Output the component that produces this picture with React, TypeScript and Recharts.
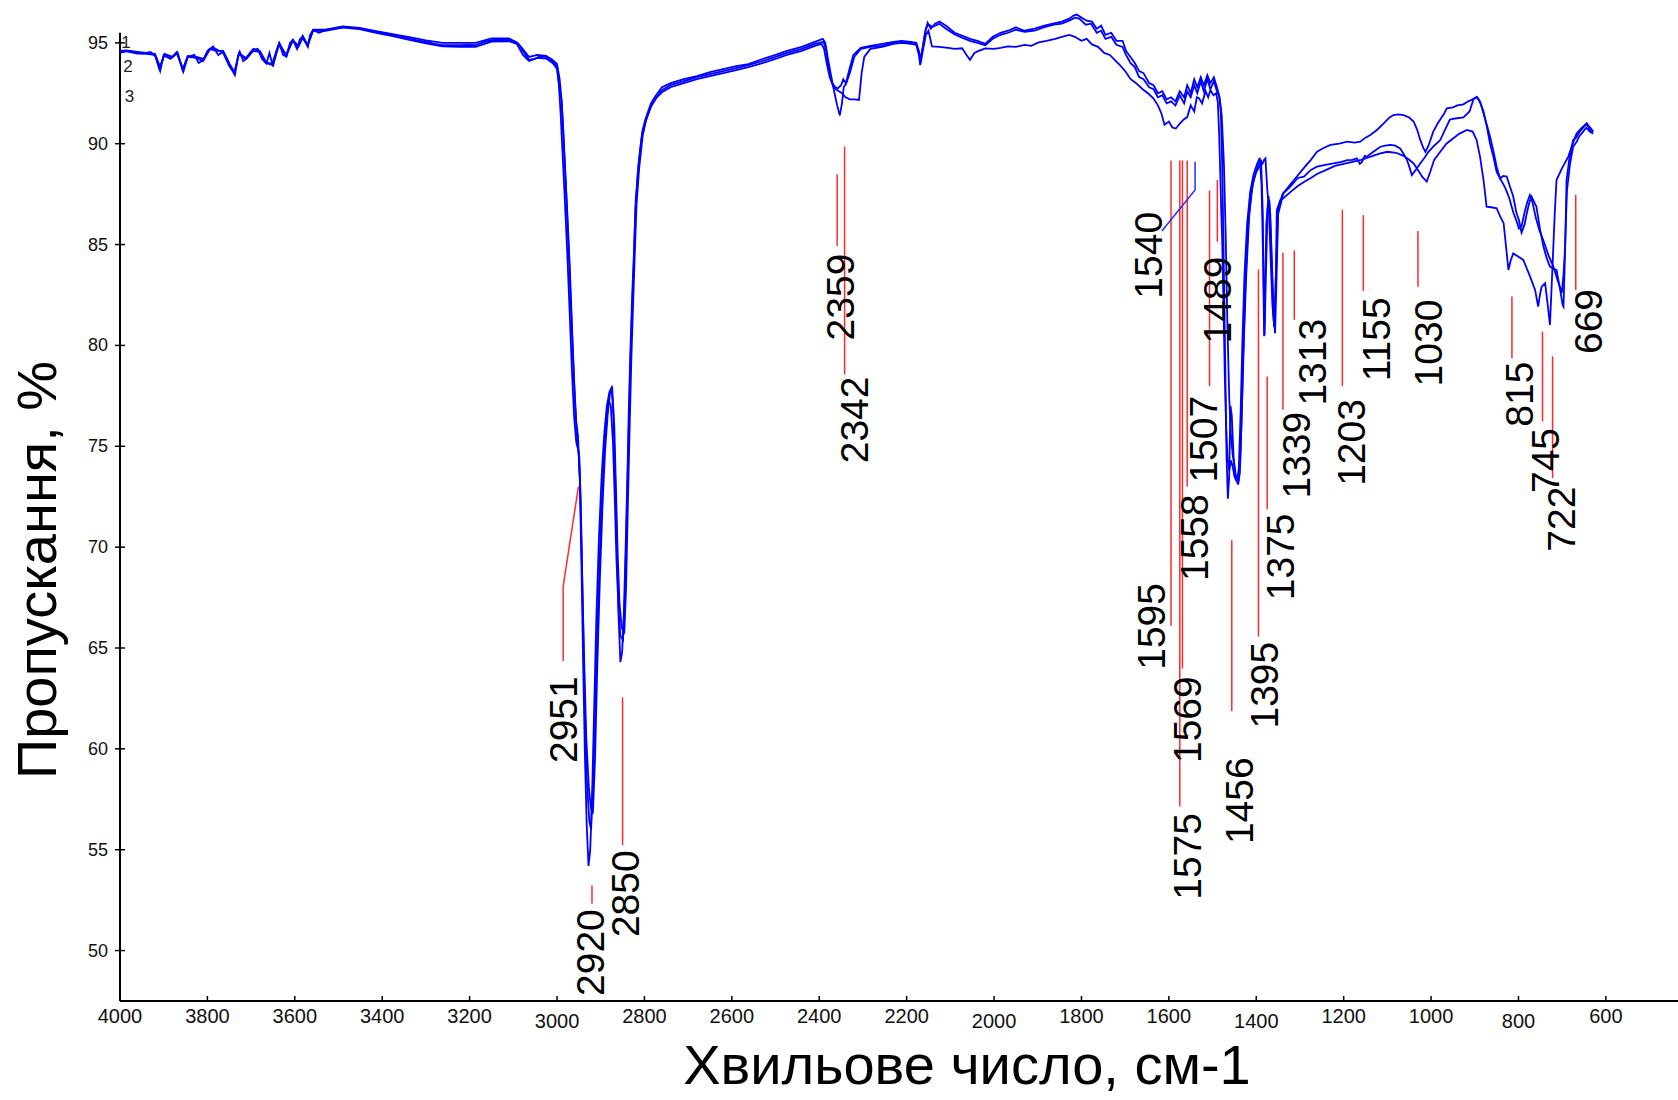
import React from 'react'
import { LineChart, Line, XAxis, YAxis, ReferenceLine, ReferenceDot } from 'recharts'

// IR spectra: [wavenumber cm-1, transmittance %]
const spectrum1: [number, number][] = [
  [4000, 94.56], [3985, 94.6], [3960, 94.5], [3946, 94.48], [3930, 94.55], [3918, 94.3], [3908, 93.6], [3900, 94.4],
  [3885, 94.2], [3870, 94.5], [3860, 93.9], [3855, 93.57], [3845, 94.3], [3830, 94.4], [3820, 94.0], [3809, 94.15],
  [3800, 94.6], [3787, 94.81], [3775, 94.4], [3764, 94.56], [3755, 94.2], [3748, 93.82], [3737, 93.4], [3730, 94.3],
  [3726, 94.56], [3718, 94.1], [3710, 94.23], [3695, 94.65], [3685, 94.7], [3675, 94.2], [3665, 93.98], [3658, 94.5],
  [3650, 93.82], [3642, 94.6], [3635, 94.97], [3627, 94.4], [3619, 94.31], [3611, 95.0], [3604, 95.14], [3595, 94.7],
  [3588, 95.2], [3581, 95.3], [3570, 94.81], [3565, 95.4], [3558, 95.64], [3545, 95.5], [3528, 95.64], [3510, 95.72],
  [3490, 95.8], [3470, 95.75], [3452, 95.72], [3430, 95.62], [3414, 95.55], [3395, 95.47], [3376, 95.39], [3355, 95.3],
  [3338, 95.22], [3320, 95.12], [3300, 95.05], [3280, 94.95], [3262, 94.89], [3240, 94.88], [3224, 94.89], [3200, 94.9],
  [3186, 94.89], [3165, 95.05], [3148, 95.14], [3125, 95.15], [3110, 95.14], [3095, 95.05], [3087, 94.89], [3075, 94.5],
  [3064, 94.15], [3052, 94.2], [3041, 94.31], [3025, 94.3], [3010, 94.07], [3000, 93.8], [2995, 92.83], [2990, 92.2],
  [2986, 90.8], [2982, 89.0], [2977, 86.8], [2971, 84.0], [2965, 80.5], [2960, 77.8], [2956, 76.2], [2952, 75.5],
  [2948, 73.5], [2944, 69.0], [2940, 64.0], [2936, 59.5], [2932, 56.2], [2928, 54.2], [2924, 55.0], [2920, 57.5],
  [2915, 62.0], [2910, 66.5], [2904, 70.5], [2898, 73.5], [2892, 75.6], [2886, 77.0], [2880, 77.7], [2875, 77.9],
  [2871, 76.5], [2867, 73.5], [2863, 70.0], [2859, 66.5], [2855, 64.3], [2851, 64.8], [2847, 66.8], [2843, 70.0],
  [2839, 73.5], [2836, 76.6], [2832, 79.8], [2828, 82.5], [2824, 84.6], [2820, 87.2], [2813, 89.1], [2805, 90.6],
  [2798, 91.2], [2785, 92.0], [2775, 92.35], [2760, 92.8], [2740, 93.0], [2710, 93.2], [2680, 93.35], [2650, 93.55],
  [2620, 93.7], [2590, 93.85], [2562, 93.95], [2530, 94.2], [2500, 94.4], [2474, 94.6], [2440, 94.8], [2410, 95.05],
  [2392, 95.2], [2386, 95.0], [2380, 94.2], [2374, 93.5], [2366, 92.6], [2359, 91.9], [2353, 91.4], [2348, 92.0],
  [2344, 92.8], [2338, 93.0], [2330, 93.5], [2320, 94.3], [2305, 94.7], [2283, 94.8], [2256, 94.85], [2230, 95.0],
  [2212, 95.02], [2190, 94.98], [2178, 94.95], [2172, 94.4], [2169, 93.9], [2165, 94.5], [2158, 95.5], [2152, 96.0],
  [2145, 95.7], [2135, 95.95], [2125, 96.06], [2110, 95.85], [2090, 95.5], [2072, 95.35], [2055, 95.2], [2038, 95.1],
  [2020, 94.95], [2003, 95.3], [1985, 95.5], [1968, 95.6], [1950, 95.77], [1930, 95.6], [1907, 95.7], [1885, 95.85],
  [1863, 95.96], [1845, 96.05], [1828, 96.2], [1818, 96.35], [1811, 96.4], [1800, 96.25], [1788, 96.1], [1776, 96.05],
  [1765, 95.7], [1755, 95.85], [1745, 95.4], [1732, 95.5], [1720, 95.1], [1706, 95.1], [1698, 94.6], [1688, 94.3],
  [1678, 94.0], [1668, 93.6], [1658, 93.5], [1645, 93.0], [1635, 92.9], [1625, 92.5], [1615, 92.6], [1605, 92.2],
  [1595, 92.3], [1585, 92.1], [1575, 92.6], [1565, 92.3], [1558, 92.9], [1550, 92.5], [1542, 93.2], [1535, 92.8],
  [1527, 93.3], [1520, 92.9], [1512, 93.4], [1505, 93.0], [1497, 93.3], [1490, 92.8], [1485, 92.4], [1481, 91.5],
  [1478, 89.0], [1475, 85.0], [1471, 79.0], [1468, 74.5], [1465, 72.4], [1462, 73.5], [1459, 77.0], [1456, 76.5],
  [1452, 74.5], [1448, 73.6], [1444, 73.3], [1440, 73.9], [1436, 76.5], [1432, 80.0], [1427, 83.5], [1421, 86.0],
  [1414, 87.6], [1406, 88.5], [1398, 89.0], [1392, 89.3], [1388, 88.0], [1384, 84.0], [1381, 80.5], [1378, 83.5],
  [1374, 86.8], [1370, 87.2], [1366, 85.0], [1362, 82.0], [1359, 80.9], [1355, 83.5], [1350, 86.8], [1340, 87.5],
  [1325, 87.9], [1310, 88.3], [1291, 88.8], [1275, 89.2], [1261, 89.6], [1245, 89.8], [1230, 89.94], [1210, 90.0],
  [1192, 90.1], [1175, 90.05], [1162, 90.1], [1150, 90.3], [1139, 90.43], [1124, 90.68], [1109, 91.0], [1095, 91.3],
  [1086, 91.42], [1075, 91.45], [1063, 91.42], [1050, 91.3], [1040, 91.1], [1032, 90.7], [1025, 90.2], [1018, 89.8],
  [1013, 89.6], [1006, 89.9], [995, 90.6], [985, 91.0], [979, 91.2], [970, 91.5], [964, 91.75], [950, 91.8],
  [940, 91.9], [926, 91.95], [915, 92.1], [905, 92.2], [895, 92.33], [888, 92.1], [880, 91.5], [872, 90.9],
  [865, 90.34], [857, 89.6], [850, 88.86], [842, 88.28], [835, 88.4], [827, 88.37], [820, 87.9], [812, 87.38],
  [805, 86.6], [799, 86.22], [793, 85.6], [786, 86.0], [781, 86.55], [775, 87.1], [770, 87.38], [764, 87.1],
  [759, 86.88], [751, 85.8], [743, 84.9], [735, 84.3], [728, 83.91], [720, 83.8], [713, 83.74], [705, 82.8],
  [699, 82.0], [697, 81.92], [693, 85.0], [690, 88.2], [684, 89.2], [675, 90.18], [668, 90.3], [660, 90.6],
  [652, 90.8], [644, 91.01], [637, 90.7], [629, 90.6],
]

const spectrum2: [number, number][] = [
  [4000, 94.6], [3985, 94.62], [3960, 94.55], [3940, 94.5], [3920, 94.45], [3908, 93.8], [3898, 94.45], [3880, 94.3],
  [3870, 94.55], [3856, 93.7], [3845, 94.35], [3825, 94.3], [3809, 94.2], [3795, 94.7], [3780, 94.6], [3764, 94.6],
  [3748, 93.9], [3738, 93.55], [3728, 94.5], [3712, 94.25], [3695, 94.7], [3680, 94.6], [3666, 94.05], [3652, 93.95],
  [3636, 95.0], [3620, 94.4], [3605, 95.15], [3592, 94.85], [3582, 95.35], [3571, 94.9], [3558, 95.65], [3530, 95.66],
  [3490, 95.82], [3452, 95.74], [3414, 95.58], [3376, 95.43], [3338, 95.28], [3300, 95.12], [3262, 95.0], [3224, 95.0],
  [3186, 95.0], [3150, 95.22], [3110, 95.22], [3090, 95.0], [3075, 94.6], [3064, 94.3], [3045, 94.4], [3025, 94.35],
  [3010, 94.15], [3000, 93.95], [2994, 93.2], [2989, 92.0], [2985, 90.2], [2980, 88.0], [2975, 85.6], [2969, 82.4],
  [2963, 79.2], [2958, 76.8], [2953, 75.0], [2949, 74.5], [2945, 71.5], [2941, 67.0], [2937, 62.5], [2932, 58.5],
  [2926, 56.4], [2922, 56.0], [2917, 58.8], [2911, 63.5], [2905, 67.8], [2899, 71.6], [2893, 74.3], [2887, 76.3],
  [2882, 77.3], [2877, 77.0], [2872, 75.2], [2868, 72.5], [2864, 69.4], [2859, 66.8], [2855, 65.6], [2849, 65.4],
  [2845, 67.5], [2841, 71.0], [2837, 74.8], [2833, 78.4], [2829, 81.3], [2825, 83.6], [2821, 86.5], [2815, 88.6],
  [2807, 90.2], [2799, 91.0], [2786, 91.8], [2775, 92.2], [2760, 92.65], [2740, 92.9], [2710, 93.1], [2680, 93.3],
  [2650, 93.45], [2620, 93.6], [2590, 93.75], [2562, 93.9], [2530, 94.1], [2500, 94.3], [2474, 94.5], [2440, 94.7],
  [2410, 94.95], [2390, 95.05], [2384, 94.6], [2378, 93.6], [2370, 93.0], [2363, 92.8], [2357, 92.75], [2350, 92.9],
  [2345, 93.2], [2339, 93.0], [2332, 93.6], [2322, 94.4], [2305, 94.75], [2283, 94.85], [2256, 94.95], [2230, 95.05],
  [2212, 95.1], [2190, 95.05], [2178, 95.0], [2172, 94.6], [2168, 94.2], [2163, 94.8], [2156, 95.7], [2150, 95.9],
  [2140, 95.8], [2125, 95.95], [2110, 95.7], [2090, 95.42], [2072, 95.25], [2055, 95.1], [2038, 95.0], [2020, 94.88],
  [2003, 95.2], [1985, 95.4], [1968, 95.5], [1950, 95.65], [1930, 95.55], [1907, 95.6], [1885, 95.78], [1863, 95.9],
  [1845, 95.95], [1828, 96.1], [1815, 96.25], [1805, 96.2], [1790, 95.9], [1778, 95.95], [1765, 95.5], [1755, 95.6],
  [1745, 95.2], [1732, 95.3], [1720, 94.9], [1706, 94.8], [1698, 94.4], [1688, 94.0], [1678, 93.8], [1668, 93.3],
  [1658, 93.2], [1645, 92.8], [1635, 92.7], [1625, 92.3], [1615, 92.4], [1605, 92.0], [1595, 92.1], [1585, 91.9],
  [1575, 92.4], [1565, 92.0], [1558, 92.6], [1550, 92.3], [1542, 92.9], [1535, 92.5], [1527, 93.1], [1520, 92.6],
  [1512, 93.2], [1505, 92.7], [1497, 93.1], [1490, 92.6], [1484, 92.3], [1479, 91.4], [1474, 89.0], [1470, 85.5],
  [1466, 81.0], [1462, 77.5], [1458, 75.5], [1454, 74.6], [1450, 74.0], [1446, 73.4], [1442, 73.1], [1438, 73.6],
  [1434, 76.0], [1430, 79.5], [1425, 83.0], [1419, 85.8], [1412, 87.5], [1404, 88.4], [1396, 88.9], [1389, 89.2],
  [1385, 86.5], [1383, 82.0], [1382, 80.45], [1380, 82.5], [1377, 86.0], [1372, 87.4], [1368, 86.5], [1364, 84.0],
  [1360, 81.5], [1357, 80.6], [1354, 83.0], [1350, 86.5], [1338, 87.54], [1322, 87.87], [1305, 88.3], [1291, 88.37],
  [1275, 88.7], [1261, 88.86], [1242, 88.95], [1223, 89.02], [1205, 89.1], [1192, 89.19], [1180, 89.2], [1170, 89.27],
  [1163, 89.0], [1158, 89.1], [1152, 89.4], [1147, 89.36], [1132, 89.6], [1116, 89.85], [1105, 89.9], [1093, 89.94],
  [1082, 89.9], [1071, 89.77], [1063, 89.5], [1055, 89.19], [1049, 88.8], [1044, 88.45], [1035, 88.7], [1025, 89.02],
  [1015, 89.3], [1006, 89.6], [993, 89.9], [979, 90.18], [968, 90.7], [957, 91.2], [945, 91.25], [926, 91.3],
  [912, 91.6], [903, 92.2], [895, 92.3], [887, 92.0], [880, 91.6], [872, 90.8], [865, 90.0], [857, 89.3],
  [850, 88.6], [840, 88.2], [830, 87.8], [821, 87.3], [812, 86.6], [805, 86.2], [799, 85.8], [793, 85.9],
  [786, 86.6], [780, 87.1], [774, 87.45], [768, 87.1], [760, 86.3], [752, 85.7], [743, 85.2], [732, 84.5],
  [720, 83.9], [710, 83.2], [701, 82.6], [697, 83.5], [694, 84.6], [689, 87.7], [682, 89.0], [675, 89.85],
  [667, 90.1], [660, 90.4], [652, 90.6], [645, 90.8], [637, 90.6], [629, 90.5],
]

const spectrum3: [number, number][] = [
  [4000, 94.52], [3985, 94.58], [3960, 94.47], [3940, 94.45], [3920, 94.4], [3910, 93.7], [3900, 94.35], [3882, 94.25],
  [3868, 94.5], [3857, 93.65], [3845, 94.3], [3825, 94.25], [3810, 94.1], [3795, 94.65], [3785, 94.75], [3764, 94.5],
  [3750, 93.85], [3738, 93.5], [3728, 94.45], [3712, 94.2], [3695, 94.6], [3680, 94.55], [3666, 94.0], [3650, 93.9],
  [3636, 94.9], [3620, 94.35], [3605, 95.1], [3592, 94.8], [3582, 95.25], [3571, 94.85], [3558, 95.6], [3530, 95.6],
  [3490, 95.76], [3452, 95.68], [3414, 95.5], [3376, 95.33], [3338, 95.15], [3300, 94.98], [3262, 94.82], [3224, 94.8],
  [3186, 94.8], [3150, 95.06], [3110, 95.08], [3092, 94.95], [3078, 94.4], [3064, 94.1], [3045, 94.25], [3025, 94.22],
  [3010, 94.0], [3000, 93.7], [2996, 93.0], [2992, 91.6], [2988, 89.8], [2983, 87.6], [2977, 84.8], [2971, 81.6],
  [2966, 78.8], [2961, 76.5], [2956, 75.2], [2951, 74.8], [2947, 73.0], [2943, 69.0], [2938, 64.5], [2933, 60.5],
  [2927, 58.0], [2922, 57.0], [2918, 56.8], [2913, 59.5], [2908, 64.0], [2902, 68.4], [2896, 72.0], [2890, 74.8],
  [2884, 76.6], [2879, 77.6], [2874, 77.96], [2869, 76.0], [2865, 72.8], [2861, 69.5], [2857, 67.2], [2852, 66.0],
  [2846, 65.8], [2842, 68.0], [2838, 72.0], [2834, 75.8], [2830, 79.3], [2826, 82.0], [2822, 84.6], [2818, 87.0],
  [2812, 88.8], [2804, 90.4], [2796, 91.2], [2784, 91.9], [2772, 92.3], [2760, 92.55], [2740, 92.8], [2710, 93.0],
  [2680, 93.2], [2650, 93.35], [2620, 93.5], [2590, 93.65], [2562, 93.8], [2530, 94.0], [2500, 94.2], [2474, 94.4],
  [2440, 94.6], [2410, 94.85], [2395, 94.95], [2389, 94.7], [2383, 94.0], [2376, 93.3], [2369, 92.9], [2362, 92.7],
  [2355, 92.6], [2348, 92.5], [2340, 92.3], [2330, 92.2], [2318, 92.2], [2309, 92.17], [2303, 93.5], [2297, 94.3],
  [2283, 94.7], [2256, 94.8], [2230, 94.95], [2212, 95.0], [2190, 94.95], [2178, 94.9], [2172, 94.5], [2168, 94.0],
  [2163, 94.6], [2156, 95.4], [2150, 95.6], [2142, 94.82], [2125, 94.8], [2105, 94.75], [2090, 94.7], [2073, 94.73],
  [2063, 94.4], [2055, 94.16], [2045, 94.5], [2035, 94.6], [2020, 94.73], [2000, 94.7], [1985, 94.75], [1968, 94.82],
  [1950, 94.8], [1930, 94.9], [1915, 94.85], [1898, 95.02], [1880, 95.1], [1860, 95.2], [1845, 95.3], [1828, 95.39],
  [1815, 95.3], [1800, 95.1], [1788, 95.2], [1776, 94.92], [1762, 94.8], [1748, 94.5], [1735, 94.4], [1724, 94.16],
  [1712, 93.9], [1700, 93.6], [1688, 93.21], [1675, 93.0], [1660, 92.7], [1648, 92.5], [1636, 92.26], [1625, 91.9],
  [1617, 91.5], [1610, 90.94], [1600, 91.1], [1592, 90.8], [1584, 90.75], [1575, 91.0], [1566, 91.2], [1558, 91.32],
  [1550, 91.9], [1542, 91.6], [1536, 92.3], [1531, 92.26], [1524, 92.0], [1516, 92.6], [1510, 92.3], [1505, 92.65],
  [1498, 92.4], [1492, 92.5], [1488, 92.07], [1485, 90.5], [1483, 89.04], [1480, 86.5], [1478, 85.25], [1475, 82.0],
  [1472, 78.5], [1469, 76.0], [1466, 74.5], [1462, 73.8], [1458, 74.3], [1454, 74.0], [1450, 73.5], [1446, 73.3],
  [1441, 73.2], [1437, 74.0], [1433, 76.8], [1428, 80.5], [1423, 83.45], [1416, 86.5], [1408, 88.0], [1400, 88.6],
  [1393, 88.86], [1386, 89.0], [1382, 89.2], [1379, 89.27], [1375, 87.8], [1371, 86.72], [1367, 84.24], [1363, 82.0],
  [1359, 80.93], [1356, 82.5], [1353, 86.7], [1345, 87.2], [1338, 87.3], [1322, 87.6], [1305, 87.9], [1291, 88.1],
  [1275, 88.3], [1261, 88.5], [1240, 88.7], [1220, 88.9], [1200, 89.0], [1180, 89.1], [1160, 89.2], [1140, 89.35],
  [1120, 89.5], [1100, 89.6], [1080, 89.55], [1063, 89.4], [1050, 89.2], [1040, 89.02], [1030, 88.7], [1020, 88.35],
  [1010, 88.12], [1002, 88.6], [993, 89.2], [979, 89.6], [965, 90.0], [949, 90.27], [935, 90.5], [918, 90.68],
  [905, 90.6], [896, 90.2], [888, 89.36], [880, 88.2], [873, 86.88], [862, 86.85], [850, 86.8], [842, 86.4],
  [834, 86.06], [828, 84.8], [823, 83.74], [818, 84.2], [812, 84.56], [800, 84.4], [789, 84.24], [775, 83.5],
  [762, 82.75], [755, 81.92], [751, 82.5], [747, 82.91], [739, 83.08], [733, 82.0], [728, 81.02], [723, 83.5],
  [717, 86.55], [713, 88.2], [700, 88.8], [686, 89.36], [676, 90.0], [667, 90.51], [655, 90.8], [644, 91.0],
  [636, 90.8], [629, 90.6],
]

const xTicks = [4000, 3800, 3600, 3400, 3200, 3000, 2800, 2600, 2400, 2200, 2000, 1800, 1600, 1400, 1200, 1000, 800, 600]
const yTicks = [50, 55, 60, 65, 70, 75, 80, 85, 90, 95]
const seriesNames = ['1', '2', '3']

// picked peaks, cm-1
const peakLabels = [
  2951, 2920, 2850, 2359, 2342, 1595, 1575, 1569, 1558, 1540, 1507, 1489,
  1456, 1395, 1375, 1339, 1313, 1203, 1155, 1030, 815, 745, 722, 669,
]

// marker geometry per peak: stroke top/bottom (%), label top (%), label shift (px), optional bend point (cm-1)
const markLayout: Record<number, { top: number; bottom: number; label: number; dx: number; bend?: number }> = {
  2951: { top: 68.06, bottom: 64.35, label: 63.6, dx: 0, bend: 2986 },
  2920: { top: 53.22, bottom: 52.32, label: 52.05, dx: -1 },
  2850: { top: 62.55, bottom: 55.23, label: 54.97, dx: 3 },
  2359: { top: 88.48, bottom: 84.93, label: 84.55, dx: 3 },
  2342: { top: 89.86, bottom: 78.56, label: 78.46, dx: 10 },
  1595: { top: 89.17, bottom: 66.1, label: 68.22, dx: -20 },
  1575: { top: 89.17, bottom: 57.14, label: 56.82, dx: 8 },
  1569: { top: 89.17, bottom: 63.98, label: 63.6, dx: 5 },
  1558: { top: 89.17, bottom: 73.0, label: 72.62, dx: 7 },
  1540: { top: 89.1, bottom: 87.7, label: 86.62, dx: -47 },
  1507: { top: 87.68, bottom: 77.98, label: 77.5, dx: -6 },
  1489: { top: 88.2, bottom: 85.14, label: 84.4, dx: 0 },
  1456: { top: 70.34, bottom: 61.86, label: 59.58, dx: 8 },
  1395: { top: 83.76, bottom: 65.57, label: 65.31, dx: 6 },
  1375: { top: 78.46, bottom: 71.88, label: 71.67, dx: 13 },
  1339: { top: 84.6, bottom: 76.81, label: 76.71, dx: 14 },
  1313: { top: 84.71, bottom: 81.27, label: 81.32, dx: 18 },
  1203: { top: 86.73, bottom: 77.98, label: 77.34, dx: 9 },
  1155: { top: 86.46, bottom: 82.7, label: 82.38, dx: 13 },
  1030: { top: 85.67, bottom: 82.91, label: 82.27, dx: 11 },
  815: { top: 82.43, bottom: 79.36, label: 79.2, dx: 8 },
  745: { top: 80.68, bottom: 76.23, label: 75.91, dx: 3 },
  722: { top: 79.46, bottom: 73.42, label: 73.0, dx: 9 },
  669: { top: 87.47, bottom: 82.75, label: 82.8, dx: 13 },
}

// slanted leaders from a peak to its shifted label
const leaders = [
  { from: [2951, 73.0], to: [2986, 68.06], color: '#ff2a2a' },
  { from: [1540, 87.7], to: [1616, 85.67], color: '#2a2aff' },
]

const FONT = '"Liberation Sans", Arial, sans-serif'
const loweredTicks = [3000, 2000, 1400, 800]

const toPoints = (arr: [number, number][]) => arr.map(([wn, t]) => ({ wn, t }))

const XTick = (props: any) => {
  const { x, y, payload } = props
  const dy = loweredTicks.includes(payload.value) ? 5 : 0
  return (
    <g>
      <line x1={x} y1={y} x2={x} y2={y - 5} stroke="#000" strokeWidth={1.5} />
      <text x={x} y={y + 15 + dy} textAnchor="middle" dominantBaseline="central" fontSize={20} fontFamily={FONT} fill="#111">
        {payload.value}
      </text>
    </g>
  )
}

const YTick = (props: any) => {
  const { x, y, payload } = props
  return (
    <g>
      <line x1={x - 5} y1={y} x2={x + 5} y2={y} stroke="#000" strokeWidth={1.5} />
      <text x={x - 12} y={y} textAnchor="end" dominantBaseline="central" fontSize={18} fontFamily={FONT} fill="#111">
        {payload.value}
      </text>
    </g>
  )
}

const PeakText = ({ cx, cy, text, dx }: any) => {
  const px = cx + dx
  return (
    <text
      x={px}
      y={cy}
      transform={`rotate(-90 ${px} ${cy})`}
      textAnchor="end"
      dominantBaseline="central"
      fontSize={39}
      fontFamily={FONT}
      fill="#000"
    >
      {text}
    </text>
  )
}

export default function App() {
  const lines = [spectrum1, spectrum2, spectrum3]

  return (
    <div style={{ position: 'absolute', left: 0, top: 0, width: 1678, height: 1100, background: '#fff', overflow: 'hidden' }}>
      <LineChart width={1678} height={1100} margin={{ top: 2.5, right: 0, bottom: 59, left: 60 }}>
        <XAxis
          type="number"
          dataKey="wn"
          domain={[435, 4000]}
          reversed
          allowDataOverflow
          ticks={xTicks}
          interval={0}
          height={40}
          tickSize={0}
          tickMargin={0}
          tickLine={false}
          axisLine={{ stroke: '#000', strokeWidth: 2 }}
          tick={<XTick />}
        />
        <YAxis
          type="number"
          dataKey="t"
          domain={[47.5, 97]}
          allowDataOverflow
          ticks={yTicks}
          interval={0}
          width={60}
          tickSize={0}
          tickMargin={0}
          tickLine={false}
          axisLine={false}
          tick={<YTick />}
        />
        <ReferenceLine
          segment={[{ x: 4000, y: 47.5 }, { x: 4000, y: 95.5 }]}
          stroke="#000"
          strokeWidth={2}
          ifOverflow="visible"
        />

        {peakLabels.map((wn) => {
          const m = markLayout[wn]
          const at = m.bend ?? wn
          return (
            <ReferenceLine
              key={`tick-${wn}`}
              segment={[{ x: at, y: m.top }, { x: at, y: m.bottom }]}
              stroke={wn === 1540 ? '#2a2aff' : '#ff2a2a'}
              strokeWidth={1.5}
              ifOverflow="visible"
            />
          )
        })}
        {leaders.map((l, i) => (
          <ReferenceLine
            key={`lead-${i}`}
            segment={[{ x: l.from[0], y: l.from[1] }, { x: l.to[0], y: l.to[1] }]}
            stroke={l.color}
            strokeWidth={1.5}
            ifOverflow="visible"
          />
        ))}

        {lines.map((s, i) => (
          <Line
            key={`s-${i}`}
            data={toPoints(s)}
            dataKey="t"
            type="linear"
            stroke="#0000ff"
            strokeWidth={1.8}
            dot={false}
            activeDot={false}
            isAnimationActive={false}
          />
        ))}

        {peakLabels.map((wn) => {
          const m = markLayout[wn]
          return (
            <ReferenceDot
              key={`lbl-${wn}`}
              x={m.bend ?? wn}
              y={m.label}
              r={0}
              ifOverflow="visible"
              shape={(p: any) => <PeakText {...p} text={String(wn)} dx={m.dx} />}
            />
          )
        })}
      </LineChart>

      <svg width={1678} height={1100} style={{ position: 'absolute', left: 0, top: 0, pointerEvents: 'none' }}>
        {seriesNames.map((n, i) => (
          <text
            key={n}
            x={[126, 128, 129.5][i]}
            y={[42, 66, 96][i]}
            textAnchor="middle"
            dominantBaseline="central"
            fontSize={17}
            fontFamily={FONT}
            fill="#222"
          >
            {n}
          </text>
        ))}
        <text x={967} y={1084} textAnchor="middle" fontSize={56} fontFamily={FONT} fill="#000">
          Хвильове число, см-1
        </text>
        <text transform="translate(56 570) rotate(-90)" textAnchor="middle" fontSize={56} fontFamily={FONT} fill="#000">
          Пропускання, %
        </text>
      </svg>
    </div>
  )
}
